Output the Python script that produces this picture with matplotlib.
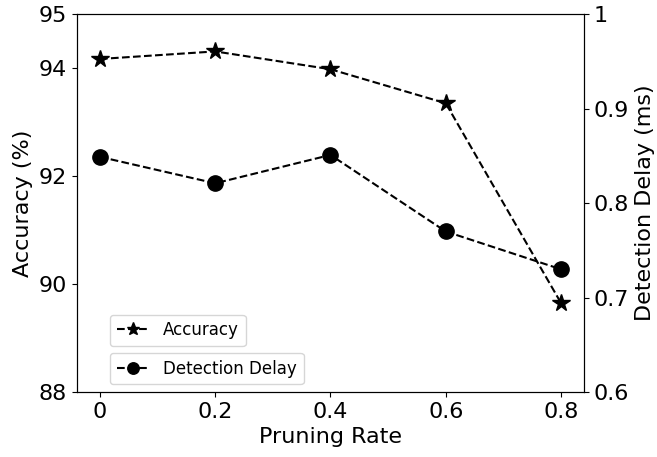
import matplotlib.pyplot as plt

rates = [0, 0.2, 0.4, 0.6, 0.8]
accuracy = [94.17, 94.31, 93.98, 93.35, 89.65]
delay = [0.849, 0.821, 0.851, 0.770, 0.730]

fig = plt.figure(figsize=(6.57, 4.57), dpi=100)
ax = fig.add_axes([0.117, 0.142, 0.772, 0.827])

l1, = ax.plot(rates, accuracy, color='k', linestyle='--', marker='*',
              markersize=13, label='Accuracy')
ax.set_ylim(88, 95)
ax.set_yticks([88, 90, 92, 94, 95])
ax.set_xticks(rates)
ax.set_xticklabels(['0', '0.2', '0.4', '0.6', '0.8'])
ax.tick_params(labelsize=16)
ax.set_xlabel('Pruning Rate', fontsize=16)
ax.set_ylabel('Accuracy (%)', fontsize=16)

ax2 = ax.twinx()
l2, = ax2.plot(rates, delay, color='k', linestyle='--', marker='o',
               markersize=11, label='Detection Delay')
ax2.set_ylim(0.6, 1.0)
ax2.set_yticks([0.6, 0.7, 0.8, 0.9, 1.0])
ax2.set_yticklabels(['0.6', '0.7', '0.8', '0.9', '1'])
ax2.tick_params(labelsize=16)
ax2.set_ylabel('Detection Delay (ms)', fontsize=16)

ax.legend(handles=[l1], loc=(0.065, 0.122), fontsize=12, markerscale=0.75)
ax2.legend(handles=[l2], loc=(0.065, 0.021), fontsize=12, markerscale=0.75)

fig.savefig('out.png')
